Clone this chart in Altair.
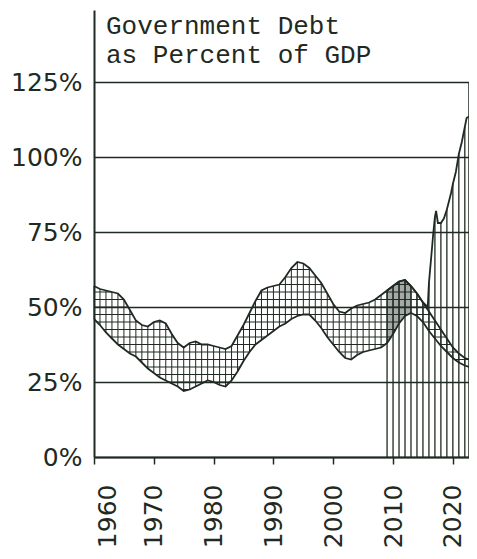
import altair as alt
import pandas as pd

# ---------------- data ----------------
years = list(range(1960, 2023)) + [2022.7]
upper = [57, 56, 55.5, 55, 54.5, 52.5, 49, 45.5, 44, 43.5,
         45, 45.5, 44.5, 41, 38, 36.5, 38, 38.5, 37.5, 37.5,
         37, 36.5, 36, 37, 40.5, 44, 48, 52, 55.5, 56.5,
         57, 57.5, 60, 63, 65, 64.5, 63, 60.5, 58, 54.5,
         51, 48.5, 48, 49.5, 50.5, 51, 51.5, 52.5, 54, 55.5,
         57, 58.5, 59, 57, 54.5, 51.5, 48.5, 45.5, 42.5, 39.5,
         36.5, 34.5, 33, 32.5]
lower = [46, 44, 41.5, 39.5, 37.5, 36, 34.5, 33.5, 31.5, 29.5,
         28, 26.5, 25.5, 24.5, 23.5, 22, 22.5, 23.5, 24.5, 25.5,
         25, 24, 23.5, 25.5, 28.5, 32, 35, 37.5, 39, 40.5,
         42, 43.5, 44.5, 46, 47, 47.5, 47.5, 45.5, 43, 40,
         37.5, 35, 33, 32.5, 34, 35, 35.5, 36, 36.5, 38,
         41, 44.5, 47, 48, 47, 45, 42, 39.5, 37, 35,
         33, 31.5, 30.5, 30]

vert_years = [2009, 2010, 2011, 2012, 2013, 2014, 2015, 2015.8, 2016, 2016.4,
              2016.7, 2017, 2017.2, 2017.5, 2018, 2018.5, 2019, 2019.7, 2020,
              2020.5, 2021, 2021.5, 2022, 2022.3, 2022.7]
vert_top = [55.5, 57, 58.5, 59, 57, 54.5, 51.5, 50, 58, 67,
            74, 80, 82, 78, 78, 79.5, 82.5, 88, 91,
            95, 101, 105, 110, 113, 113.5]

decades = [1960, 1970, 1980, 1990, 2000, 2010, 2020]
pct_ticks = [0, 25, 50, 75, 100, 125]
title_lines = ["Government Debt", "as Percent of GDP"]

# ---------------- styling ----------------
INK = "#1f2a22"
band = pd.DataFrame({"year": years, "upper": upper, "lower": lower})
vert = pd.DataFrame({"year": vert_years, "top": vert_top})
title_df = pd.DataFrame({"t": ["\n".join(title_lines)]})

xs = alt.Scale(domain=[1960, 2022.7], nice=False, zero=False)
ys = alt.Scale(domain=[0, 149], nice=False)

x_axis = alt.Axis(
    values=decades, format="d", labelAngle=-90, labelFont="DejaVu Sans",
    labelFontSize=25, labelColor=INK, tickColor=INK, tickSize=7, tickWidth=1.5,
    domainColor=INK, domainWidth=2, labelPadding=20, grid=False,
    labelOverlap=False, labelFlush=False, zindex=1,
    labelOffset={"condition": {"test": "datum.value == 1960", "value": 13}, "value": 0},
)
y_axis = alt.Axis(
    values=pct_ticks, labelExpr="datum.value + '%'", grid=True, gridColor=INK,
    gridWidth=1.5, gridOpacity=1, domainColor=INK, domainWidth=2, ticks=False,
    labelFont="DejaVu Sans", labelFontSize=25, labelColor=INK, labelPadding=12,
    zindex=1,
)


def X(field):
    return alt.X(field, scale=xs, axis=x_axis, title=None)


def Y(field):
    return alt.Y(field, scale=ys, axis=y_axis, title=None)


hatch_h = (
    alt.Chart(band)
    .transform_aggregate(x0="min(year)", x1="max(year)")
    .transform_calculate(h="sequence(20, 67.5, 2.5)")
    .transform_flatten(["h"])
    .mark_rule(color=INK, strokeWidth=1)
    .encode(x=X("x0:Q"), x2="x1:Q", y=Y("h:Q"))
)
mask_top = alt.Chart(band).mark_area(color="white", opacity=1).encode(
    x=X("year:Q"), y=Y("upper:Q"), y2=alt.datum(70)
)
mask_bot = alt.Chart(band).mark_area(color="white", opacity=1).encode(
    x=X("year:Q"), y=Y("lower:Q"), y2=alt.datum(18)
)
hatch_v = (
    alt.Chart(band)
    .transform_filter("datum.year % 1 == 0")
    .mark_rule(color=INK, strokeWidth=1)
    .encode(x=X("year:Q"), y=Y("lower:Q"), y2="upper:Q")
)
vert_rules = (
    alt.Chart(vert)
    .transform_filter("datum.year % 1 == 0")
    .mark_rule(color=INK, strokeWidth=1.3)
    .encode(x=X("year:Q"), y=Y("top:Q"), y2=alt.datum(0))
)
dark = (
    alt.Chart(band)
    .transform_filter("datum.year >= 2009 && datum.year <= 2013")
    .mark_area(color=INK, opacity=0.4)
    .encode(x=X("year:Q"), y=Y("lower:Q"), y2="upper:Q")
)
up_line = alt.Chart(band).mark_line(color=INK, strokeWidth=1.8).encode(
    x=X("year:Q"), y=Y("upper:Q")
)
lo_line = alt.Chart(band).mark_line(color=INK, strokeWidth=1.8).encode(
    x=X("year:Q"), y=Y("lower:Q")
)
vert_line = alt.Chart(vert).mark_line(color=INK, strokeWidth=1.8).encode(
    x=X("year:Q"), y=Y("top:Q")
)
border = (
    alt.Chart(band)
    .transform_aggregate(x1="max(year)")
    .transform_calculate(y0="0", y1="125")
    .mark_rule(color=INK, strokeWidth=1.5)
    .encode(x=X("x1:Q"), y=Y("y0:Q"), y2="y1:Q")
)
title = alt.Chart(title_df).mark_text(
    lineBreak="\n", lineHeight=29, align="left", baseline="alphabetic",
    font="Liberation Mono", fontSize=26, color=INK,
).encode(text="t:N", x=alt.value(12), y=alt.value(24))

chart = (
    alt.layer(hatch_h, mask_top, mask_bot, hatch_v, vert_rules, dark,
              up_line, lo_line, vert_line, border, title)
    .properties(
        width=375, height=447,
        autosize=alt.AutoSizeParams(type="none"),
        padding={"left": 86, "top": 2, "right": 0, "bottom": 93},
        background="white",
    )
    .configure_view(stroke=None)
)

chart.save("out.html", embed_options={"renderer": "svg", "actions": False})
